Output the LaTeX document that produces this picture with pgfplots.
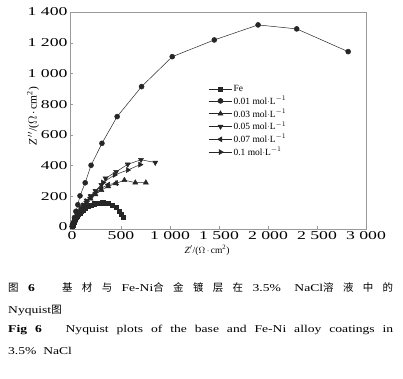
\documentclass[border=0pt]{standalone}
\usepackage{fontspec}
\setmainfont{Liberation Serif}[FakeStretch=1.3]
\newfontfamily\cjk{Noto Sans CJK SC}
\newfontfamily\plain{Liberation Serif}
\usepackage{graphicx}
\usepackage{pgfplots}
\pgfplotsset{compat=1.18}
\begin{document}
\begin{tikzpicture}[x=1bp,y=1bp]
\path[use as bounding box] (0,0) rectangle (403,-379);
\begin{axis}[
  at={(70bp,-12bp)}, anchor=north west,
  scale only axis, width=296bp, height=217bp,
  xmin=-20, xmax=3000, ymin=-13, ymax=1400,
  xtick={0,500,...,3000}, ytick={0,200,...,1400},
  tick align=inside, xtick pos=bottom, ytick pos=left,
  major tick length=3bp,
  axis line style={gray!80, line width=0.5pt},
  tick style={gray!80},
  /pgf/number format/1000 sep={\ },
  /pgf/number format/assume math mode=true,
  tick label style={font=\plain\fontsize{12}{13}\selectfont},
  xticklabel={\scalebox{1.48}[1]{\pgfmathprintnumber{\tick}}},
  yticklabel={\scalebox{1.48}[1]{\pgfmathprintnumber{\tick}}},
  xticklabel style={yshift=1bp},
  yticklabel style={xshift=1bp},
  xlabel={{\itshape Z}$'$/($\Omega$\,$\cdot$\,cm\textsuperscript{2})},
  ylabel={{\itshape Z}\,$''$/($\Omega$\,$\cdot$\,cm\textsuperscript{2})},
  xlabel style={font=\plain\fontsize{9.5}{11}\selectfont, at={(axis description cs:0.463,-0.097)}, anchor=center},
  ylabel style={font=\plain\fontsize{11.5}{13}\selectfont, at={(axis description cs:-0.125,0.52)}, anchor=center},
  every axis plot/.append style={black!85, line width=0.5pt, mark size=2.5bp},
  every axis plot post/.append style={legend image code/.code={\draw[mark repeat=2,mark phase=2] plot coordinates {(0cm,0cm) (0.42cm,0cm) (0.84cm,0cm)};}},
  legend style={draw=none, fill=none, at={(0.465,0.67)}, anchor=north west,
    font=\plain\fontsize{9.5}{10.5}\selectfont, row sep=1bp, inner sep=0.5bp,
    nodes={inner sep=1bp}},
  legend cell align=left,
]
\addplot[mark=square*, mark size=2.1bp] coordinates {
(3,3) (8,12) (14,22) (20,32) (27,42) (35,52) (44,62) (54,72) (66,82) (80,92) (96,102) (115,113) (137,124) (162,134) (192,143) (228,151) (270,157) (315,158) (365,154) (410,143) (448,128) (480,104) (505,82) (520,62)};
\addlegendentry{Fe}
\addplot[mark=*] coordinates {
(5,8) (14,28) (26,62) (40,102) (60,145) (82,203) (135,288) (195,402) (306,545) (461,719) (710,914) (1023,1109) (1452,1218) (1899,1316) (2293,1290) (2818,1142)};
\addlegendentry{0.01 mol$\cdot$L\textsuperscript{$-1$}}
\addplot[mark=triangle*, mark size=2.9bp] coordinates {
(4,4) (10,14) (18,26) (28,40) (40,56) (55,74) (72,92) (93,112) (118,134) (150,158) (190,184) (240,212) (300,240) (370,265) (450,284) (535,305) (646,289) (754,289)};
\addlegendentry{0.03 mol$\cdot$L\textsuperscript{$-1$}}
\addplot[mark=triangle*, mark size=2.9bp, mark options={rotate=180}] coordinates {
(4,5) (10,15) (18,28) (28,43) (40,60) (55,79) (72,99) (93,121) (118,145) (150,172) (190,202) (240,236) (300,275) (343,317) (451,360) (569,408) (704,438) (850,420)};
\addlegendentry{0.05 mol$\cdot$L\textsuperscript{$-1$}}
\addplot[mark=triangle*, mark size=2.9bp, mark options={rotate=90}] coordinates {
(4,4) (10,14) (18,27) (28,41) (40,58) (55,77) (72,96) (93,117) (118,140) (150,165) (190,192) (240,222) (300,252) (370,276) (451,286)};
\addlegendentry{0.07 mol$\cdot$L\textsuperscript{$-1$}}
\addplot[mark=triangle*, mark size=2.9bp, mark options={rotate=270}] coordinates {
(4,5) (10,15) (18,28) (28,42) (40,59) (55,78) (72,98) (93,119) (118,142) (150,168) (190,196) (240,228) (316,289) (434,339) (569,371) (695,406)};
\addlegendentry{0.1 mol$\cdot$L\textsuperscript{$-1$}}
\end{axis}
\node[anchor=west, inner sep=0] at (8,-288) {\makebox[385bp][s]{\fontsize{10.5}{12}\selectfont\cjk 图\ \rmfamily\textbf{6}\ \ \cjk 基\ 材\ 与\ \rmfamily Fe-Ni\cjk 合\ 金\ 镀\ 层\ 在\ \rmfamily 3.5\%\ NaCl\cjk 溶\ 液\ 中\ 的}};
\node[anchor=west, inner sep=0] at (8,-310) {\fontsize{10.5}{12}\selectfont Nyquist{\cjk 图}};
\node[anchor=west, inner sep=0] at (8,-330) {\makebox[385bp][s]{\fontsize{10.5}{12}\selectfont\textbf{Fig 6}\ \ \ Nyquist plots of the base and Fe-Ni alloy coatings in}};
\node[anchor=west, inner sep=0] at (8,-351) {\fontsize{10.5}{12}\selectfont 3.5\%\ \ NaCl};
\end{tikzpicture}
\end{document}
